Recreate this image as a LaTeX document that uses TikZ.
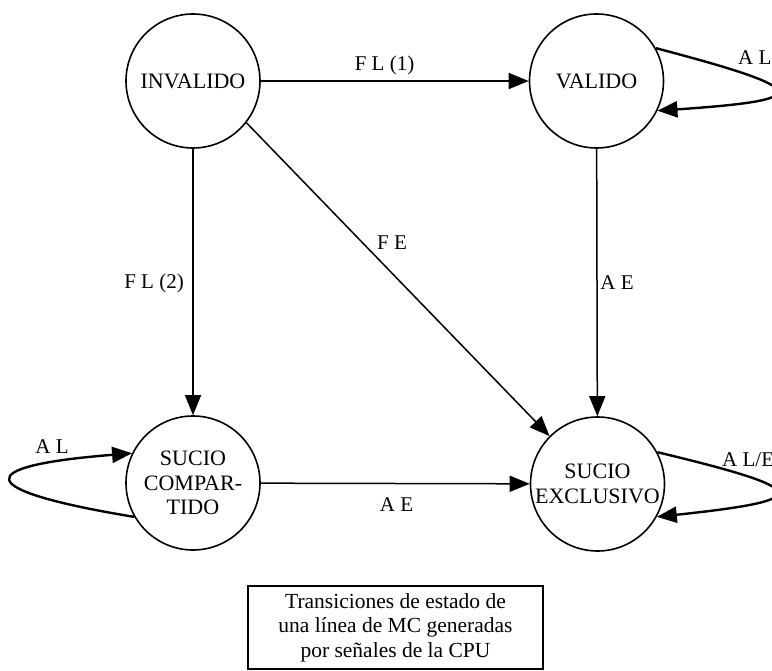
\documentclass[tikz,border=0pt]{standalone}
\usepackage{fontspec}
\setmainfont{Liberation Serif}
\usetikzlibrary{arrows.meta}
\begin{document}
\begin{tikzpicture}[x=1pt,y=-1pt,
  state/.style={circle,draw,line width=1.6pt,minimum size=134pt,inner sep=0pt,
    align=center,font=\fontsize{22}{24.5}\selectfont},
  trans/.style={line width=1.5pt,-{Triangle[length=20pt,width=16pt]}},
  selfloop/.style={line width=2.4pt,-{Triangle[length=20pt,width=16pt]}},
  lbl/.style={font=\fontsize{21}{23}\selectfont,inner sep=0pt},
  note/.style={draw,line width=1.3pt,minimum width=295pt,minimum height=83pt,
    align=center,font=\fontsize{21.5}{24.5}\selectfont}]
  \useasboundingbox (0,0) rectangle (772,671);

  % states
  \node[state] (I)  at (193,81)    {INVALIDO};
  \node[state] (V)  at (596.5,81)  {VALIDO};
  \node[state] (SC) at (193,483)   {SUCIO\\COMPAR-\\TIDO};
  \node[state] (SE) at (597.5,484) {SUCIO\\EXCLUSIVO};

  % transitions between states
  \draw[trans] (I) -- (V);
  \draw[trans] (I.-90) -- (SC.90);
  \draw[trans] (I.-38) -- (SE.135);
  \draw[trans] (V) -- (SE);
  \draw[trans] (SC) -- (SE);

  % self loops
  \draw[selfloop] (V.29) .. controls (815,90) and (815,100) .. (V.-26);
  \draw[selfloop] (SE.28) .. controls (815,490) and (815,500) .. (SE.-29);
  \draw[selfloop] (SC.-150) .. controls (-29,490) and (-29,466) .. (SC.154);

  % transition labels
  \node[lbl] (lFL1) at (384.5,65) {F L (1)};
  \node[lbl] (lFE)  at (392,243) {F E};
  \node[lbl] (lFL2) at (154,283) {F L (2)};
  \node[lbl] (lAE1) at (617,283) {A E};
  \node[lbl] (lAE2) at (396.5,505) {A E};
  \node[lbl,anchor=west] (lAL1) at (738,58) {A L};
  \node[lbl] (lAL2) at (52,447)  {A L};
  \node[lbl,anchor=west] (lALE) at (722,460) {A L/E};

  % caption box
  \node[note] (cap) at (395.5,627.5)
    {Transiciones de estado de\\una línea de MC generadas\\por señales de la CPU};
\end{tikzpicture}
\end{document}
